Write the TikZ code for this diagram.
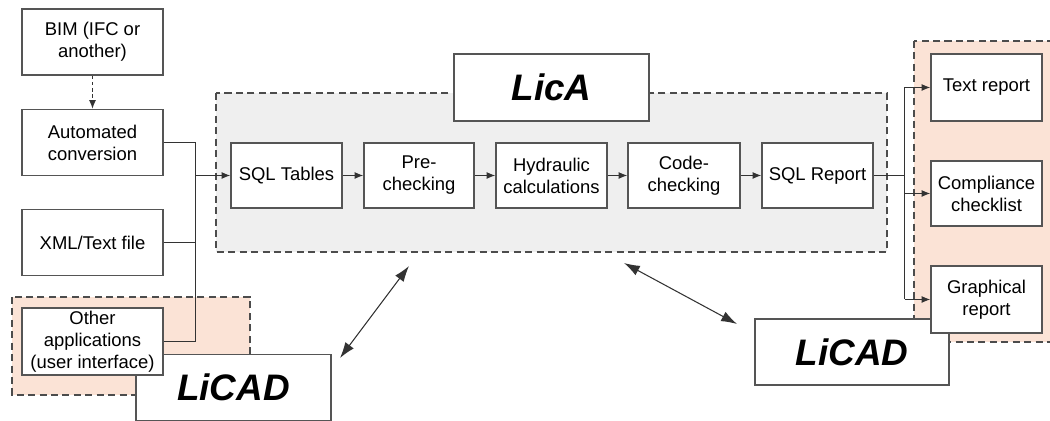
\documentclass[tikz,border=0pt]{standalone}
\usepackage{fontspec}
\setmainfont{Liberation Sans}
\usetikzlibrary{arrows.meta}
\definecolor{regiongray}{HTML}{EFEFEF}
\definecolor{peach}{HTML}{FBE3D6}
\definecolor{edgegray}{HTML}{555555}

\begin{document}
\begin{tikzpicture}[x=0.02cm, y=-0.02cm,
	box/.style={draw=edgegray, line width=0.8pt, fill=white, align=center, inner sep=1pt,
		font=\fontsize{10.5}{12.5}\selectfont},
	titlebox/.style={box, font=\fontsize{21}{24}\selectfont\bfseries\itshape},
	region/.style={draw=black!70, dash pattern=on 4pt off 2.5pt, line width=0.7pt},
	wire/.style={line width=0.6pt, draw=black!80},
	flow/.style={wire, ->, >={Latex[length=5pt,width=4pt]}}]
	\useasboundingbox (0,0) rectangle (1050,421);
	\clip (0,0) rectangle (1050,421);

	% regions
	\draw[region, fill=regiongray] (216,93) rectangle (887,252);
	\draw[region, fill=peach] (12,297) rectangle (250,395);
	\draw[region, fill=peach] (914,41) rectangle (1060,342);

	\node[titlebox, minimum width=3.9cm, minimum height=1.34cm] (LicA) at (551.5,87.5) {LicA};
	\node[titlebox, minimum width=3.9cm, minimum height=1.32cm] (LiCADL) at (233.5,387.5) {LiCAD};
	\node[titlebox, minimum width=3.88cm, minimum height=1.32cm] (LiCADR) at (852,352) {LiCAD};

	% inputs
	\node[box, minimum width=2.82cm, minimum height=1.32cm] (BIM) at (92.5,42) {BIM (IFC or\\another)};
	\node[box, minimum width=2.82cm, minimum height=1.32cm] (AC) at (92.5,142.5) {Automated\\conversion};
	\node[box, minimum width=2.82cm, minimum height=1.32cm] (XML) at (92.5,242.5) {XML/Text file};
	\node[box, minimum width=2.82cm, minimum height=1.34cm] (OA) at (92.5,341.5) {Other\\applications\\(user interface)};

	% LicA steps
	\node[box, minimum width=2.22cm, minimum height=1.3cm] (ST) at (286.5,175.5) {SQL Tables};
	\node[box, minimum width=2.2cm, minimum height=1.3cm] (PC) at (419,175.5) {Pre-\\checking};
	\node[box, minimum width=2.22cm, minimum height=1.3cm] (HC) at (551.5,175.5) {Hydraulic\\calculations};
	\node[box, minimum width=2.24cm, minimum height=1.3cm] (CC) at (684,175.5) {Code-\\checking};
	\node[box, minimum width=2.22cm, minimum height=1.3cm] (SR) at (817.5,175.5) {SQL Report};

	% outputs
	\node[box, minimum width=2.22cm, minimum height=1.34cm] (TR) at (986.5,87.5) {Text report};
	\node[box, minimum width=2.22cm, minimum height=1.3cm] (CL) at (986.5,193.5) {Compliance\\checklist};
	\node[box, minimum width=2.22cm, minimum height=1.34cm] (GR) at (986.5,299.5) {Graphical\\report};

	\coordinate (in) at (195.5,175.5);
	\coordinate (out) at (904.5,175.5);
	\coordinate (LicAL) at (409,266);
	\coordinate (LicAR) at (624,263);
	\coordinate (CADL) at (340,358);
	\coordinate (CADR) at (737,324);

	\draw[flow, dashed, dash pattern=on 2pt off 1.5pt] (BIM) -- (AC);
	\draw[wire] (AC.east) -| (in |- OA.east) -- (OA.east);
	\draw[wire] (XML.east) -- (in |- XML.east);
	\draw[flow] (in) -- (ST);
	\draw[flow] (ST) -- (PC);
	\draw[flow] (PC) -- (HC);
	\draw[flow] (HC) -- (CC);
	\draw[flow] (CC) -- (SR);
	\draw[wire] (SR) -- (out);
	\draw[wire] (out |- TR.west) -- (out |- GR.west);
	\draw[flow] (out |- TR.west) -- (TR);
	\draw[flow] (out |- CL.west) -- (CL);
	\draw[flow] (out |- GR.west) -- (GR);

	\draw[flow, <->, >={Latex[length=9pt,width=6pt]}] (LicAL) -- (CADL);
	\draw[flow, <->, >={Latex[length=9pt,width=6pt]}] (LicAR) -- (CADR);
\end{tikzpicture}
\end{document}
